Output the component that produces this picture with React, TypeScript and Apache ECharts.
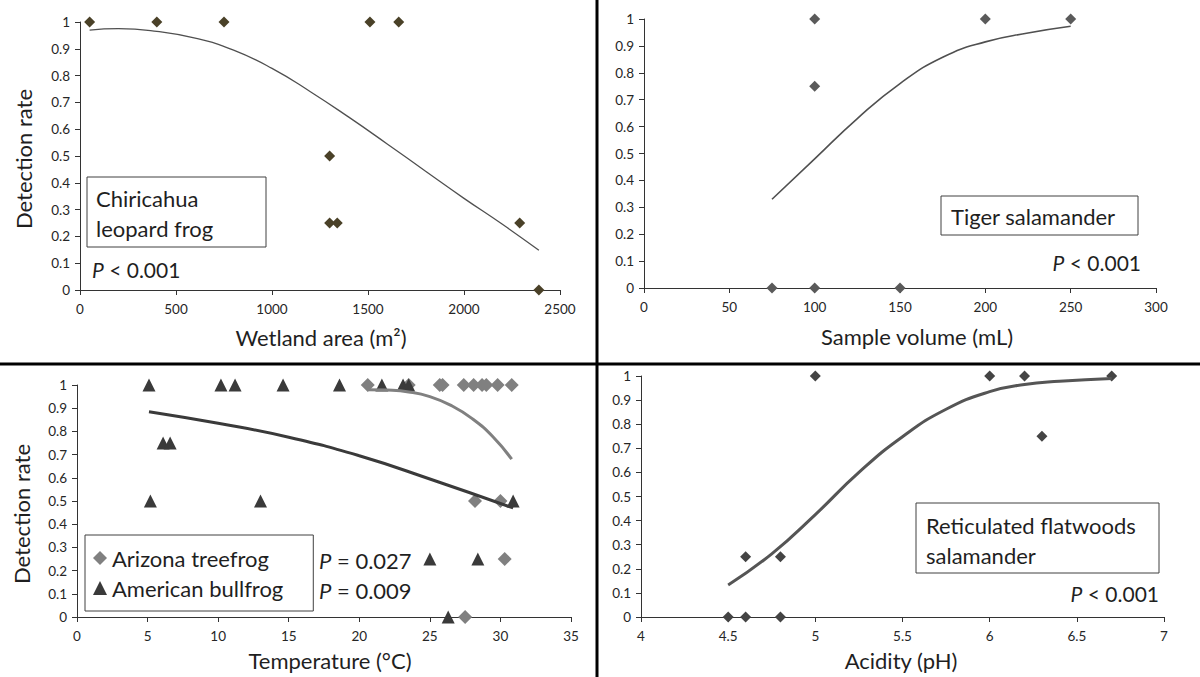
import React, { useEffect, useRef } from "react";
import * as echarts from "echarts";

// ---- Panel A: Chiricahua leopard frog (wetland area) ----
const chiriX = [50, 400, 750, 1510, 1660, 1300, 1300, 1340, 2290, 2390];
const chiriY = [1, 1, 1, 1, 1, 0.5, 0.25, 0.25, 0.25, 0];
const chiriFitX = [50, 200, 400, 600, 800, 1000, 1200, 1400, 1600, 1800, 2000, 2200, 2390];
const chiriFitY = [0.97, 0.975, 0.965, 0.94, 0.895, 0.827, 0.74, 0.645, 0.545, 0.443, 0.342, 0.245, 0.148];

// ---- Panel B: Tiger salamander (sample volume) ----
const tigerX = [75, 100, 150, 100, 100, 200, 250];
const tigerY = [0, 0, 0, 1, 0.75, 1, 1];
const tigerFitX = [75, 100, 125, 150, 175, 200, 225, 250];
const tigerFitY = [0.33, 0.48, 0.63, 0.76, 0.858, 0.915, 0.948, 0.973];

// ---- Panel C: temperature ----
const treeX = [20.6, 23.5, 25.7, 25.9, 27.4, 28.1, 28.7, 29.0, 29.8, 30.8, 28.2, 30.0, 30.3, 27.5];
const treeY = [1, 1, 1, 1, 1, 1, 1, 1, 1, 1, 0.5, 0.5, 0.25, 0];
const bullX = [5.1, 10.2, 11.2, 14.6, 18.6, 21.6, 23.1, 23.5, 6.1, 6.6, 5.2, 13.0, 30.9, 25.0, 28.4, 26.3];
const bullY = [1, 1, 1, 1, 1, 1, 1, 1, 0.75, 0.75, 0.5, 0.5, 0.5, 0.25, 0.25, 0];
const treeFitX = [20.6, 22, 23.5, 25, 26.5, 28, 29.5, 30.8];
const treeFitY = [0.98, 0.978, 0.97, 0.95, 0.912, 0.855, 0.775, 0.68];
const bullFitX = [5.1, 10, 15, 20, 25, 30.9];
const bullFitY = [0.885, 0.835, 0.775, 0.695, 0.595, 0.47];

// ---- Panel D: Reticulated flatwoods salamander (pH) ----
const retX = [4.5, 4.6, 4.8, 4.6, 4.8, 5.0, 6.0, 6.2, 6.3, 6.7];
const retY = [0, 0, 0, 0.25, 0.25, 1, 1, 1, 0.75, 1];
const retFitX = [4.5, 4.75, 5.0, 5.25, 5.5, 5.75, 6.0, 6.2, 6.4, 6.7];
const retFitY = [0.133, 0.262, 0.425, 0.6, 0.748, 0.862, 0.935, 0.965, 0.978, 0.99];

// axis ranges / tick steps
const xRanges = [
  [0, 2500, 500],
  [0, 300, 50],
  [0, 35, 5],
  [4, 7, 0.5],
];

const FONT = "Lato, 'Open Sans', sans-serif";
const INK = "#1f1f1f";
const TS = 22;

const zip = (xs: number[], ys: number[]) => xs.map((x, i) => [x, ys[i]]);

export default function App() {
  const ref = useRef<HTMLDivElement>(null);

  useEffect(() => {
    document.body.style.margin = "0";
    if (!ref.current) return;
    const chart = echarts.init(ref.current, undefined, { renderer: "svg" });

    const axisCommon = {
      type: "value",
      axisLine: { show: true, lineStyle: { color: "#333", width: 1 } },
      axisTick: { show: true, length: 5, lineStyle: { color: "#333", width: 1 } },
      splitLine: { show: false },
      axisLabel: {
        color: "#262626",
        fontSize: 13.5,
        fontFamily: FONT,
        margin: 12,
        formatter: (v: number) => String(Math.round(v * 1000) / 1000),
      },
    };

    const grids = [
      { left: 80, top: 22, width: 480, height: 268 },
      { left: 644, top: 19, width: 512, height: 269 },
      { left: 77, top: 385, width: 494, height: 232 },
      { left: 641, top: 376, width: 523, height: 241 },
    ];

    const xAxis = xRanges.map((r, i) => ({
      ...axisCommon,
      gridIndex: i,
      min: r[0],
      max: r[1],
      interval: r[2],
    }));
    const yAxis = grids.map((_, i) => ({
      ...axisCommon,
      gridIndex: i,
      min: 0,
      max: 1,
      interval: 0.1,
      axisLabel: { ...axisCommon.axisLabel, margin: 10 },
    }));

    const scatter = (name: string, idx: number, data: number[][], symbol: string, size: number, color: string) => ({
      name,
      type: "scatter",
      xAxisIndex: idx,
      yAxisIndex: idx,
      data,
      symbol,
      symbolSize: size,
      itemStyle: { color, opacity: 1 },
      z: 2,
      silent: true,
    });
    const fit = (name: string, idx: number, data: number[][], color: string, width: number) => ({
      name,
      type: "line",
      xAxisIndex: idx,
      yAxisIndex: idx,
      data,
      smooth: 0.5,
      showSymbol: false,
      symbol: "none",
      lineStyle: { color, width },
      z: 3,
      silent: true,
    });

    const text = (t: string, x: number, y: number, size = TS, align = "left", extra: any = {}) => ({
      type: "text",
      x,
      y,
      z: 10,
      ...extra,
      style: {
        text: t,
        fill: INK,
        fontSize: size,
        fontFamily: FONT,
        textAlign: align,
        textVerticalAlign: "middle",
        rich: {
          i: { fontStyle: "italic", fontSize: size, fontFamily: FONT, fill: INK },
          n: { fontSize: size, fontFamily: FONT, fill: INK },
        },
      },
    });
    const box = (x: number, y: number, w: number, h: number) => ({
      type: "rect",
      z: 9,
      shape: { x, y, width: w, height: h },
      style: { fill: "#fff", stroke: "#404040", lineWidth: 1 },
    });

    const graphic = [
      // dividers
      { type: "line", z: 20, shape: { x1: 597, y1: 0, x2: 597, y2: 677 }, style: { stroke: "#000", lineWidth: 3 } },
      { type: "line", z: 20, shape: { x1: 0, y1: 364, x2: 1200, y2: 364 }, style: { stroke: "#000", lineWidth: 3 } },
      // axis titles
      text("Detection rate", 23, 159, TS, "center", { rotation: Math.PI / 2 }),
      text("Detection rate", 21, 514, TS, "center", { rotation: Math.PI / 2 }),
      text("Wetland area (m²)", 321, 337, TS, "center"),
      text("Sample volume (mL)", 917, 336, TS, "center"),
      text("Temperature (°C)", 330, 660, TS, "center"),
      text("Acidity (pH)", 901, 660, TS, "center"),
      // panel A
      box(87, 177, 179, 70),
      text("Chiricahua", 96, 198),
      text("leopard frog", 96, 228),
      text("{i|P}{n| < 0.001}", 92, 269, 21),
      // panel B
      box(941, 196, 197, 39),
      text("Tiger salamander", 951, 216),
      text("{i|P}{n| < 0.001}", 1141, 262, 21, "right"),
      // panel C
      text("{i|P}{n| = 0.027}", 319, 560),
      text("{i|P}{n| = 0.009}", 319, 590),
      // panel D
      box(916, 503, 243, 70),
      text("Reticulated flatwoods", 926, 525),
      text("salamander", 926, 555),
      text("{i|P}{n| < 0.001}", 1159, 593, 21, "right"),
    ];

    const option = {
      animation: false,
      backgroundColor: "#fff",
      grid: grids,
      xAxis,
      yAxis,
      legend: {
        data: ["Arizona treefrog", "American bullfrog"],
        orient: "vertical",
        left: 85,
        top: 535,
        padding: [12, 30, 12, 8],
        itemGap: 8,
        itemWidth: 14,
        itemHeight: 14,
        borderColor: "#404040",
        borderWidth: 1,
        backgroundColor: "#fff",
        selectedMode: false,
        z: 9,
        textStyle: { fontSize: TS, fontFamily: FONT, color: INK, lineHeight: 22, padding: [0, 0, 0, 0] },
      },
      series: [
        scatter("Chiricahua", 0, zip(chiriX, chiriY), "diamond", 11, "#4a4128"),
        fit("Chiricahua fit", 0, zip(chiriFitX, chiriFitY), "#505050", 1.3),
        scatter("Tiger", 1, zip(tigerX, tigerY), "diamond", 11, "#5a5a5a"),
        fit("Tiger fit", 1, zip(tigerFitX, tigerFitY), "#505050", 1.6),
        scatter("Arizona treefrog", 2, zip(treeX, treeY), "diamond", 14, "#808080"),
        scatter("American bullfrog", 2, zip(bullX, bullY), "triangle", 13, "#3a3a3a"),
        fit("Treefrog fit", 2, zip(treeFitX, treeFitY), "#808080", 3),
        fit("Bullfrog fit", 2, zip(bullFitX, bullFitY), "#3a3a3a", 3),
        scatter("Reticulated", 3, zip(retX, retY), "diamond", 11, "#444444"),
        fit("Reticulated fit", 3, zip(retFitX, retFitY), "#555555", 3),
      ],
      graphic,
    };

    chart.setOption(option as any);
    return () => chart.dispose();
  }, []);

  return <div ref={ref} style={{ width: 1200, height: 677 }} />;
}
